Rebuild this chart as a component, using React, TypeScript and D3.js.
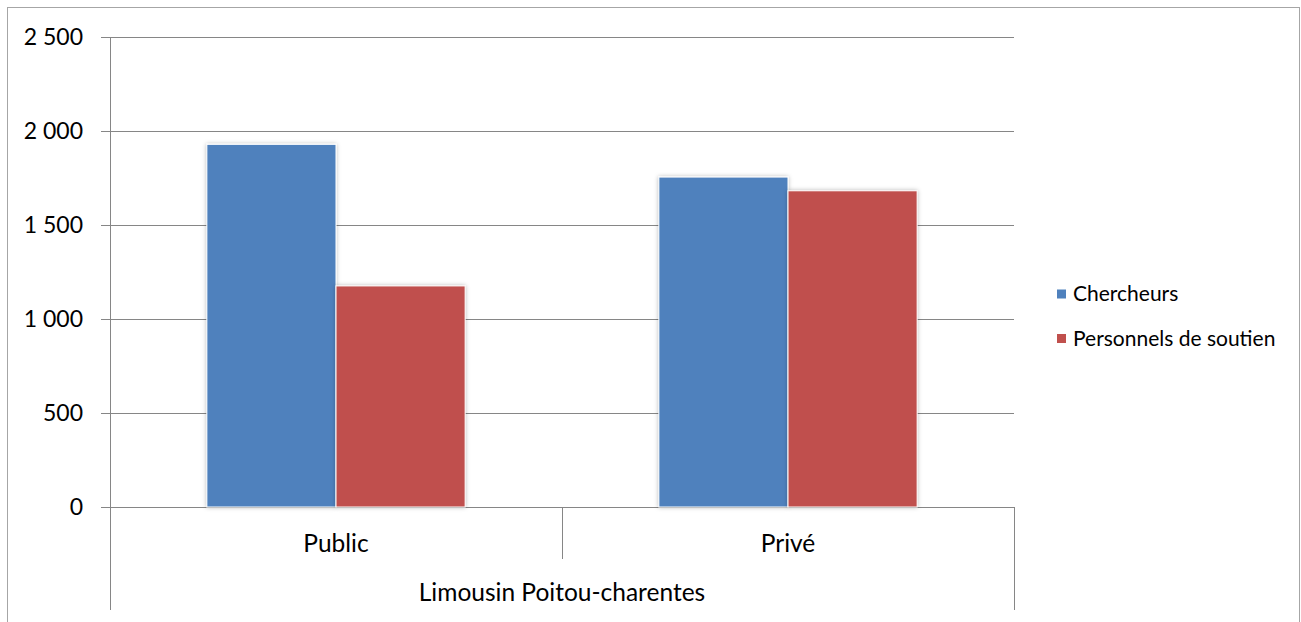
import React from "react";
import * as d3 from "d3";

const categories = ["Public", "Privé"];
const groupLabel = "Limousin Poitou-charentes";
const seriesNames = ["Chercheurs", "Personnels de soutien"];
const chercheurs = [1929, 1755];
const soutien = [1176, 1682];
const yTicks = [0, 500, 1000, 1500, 2000, 2500];
const colors = ["#4F81BD", "#C0504D"];

const W = 1301;
const H = 622;
const FONT = "Lato, 'Open Sans', sans-serif";

function fmt(v: number) {
  const s = String(v);
  return s.length > 3 ? s.slice(0, s.length - 3) + "\u00a0" + s.slice(-3) : s;
}

export default function App() {
  const left = 110, right = 1014, top = 37, bottom = 507;
  const x0 = d3.scaleBand<string>().domain(categories).range([left, right]).paddingInner(0).paddingOuter(0);
  const x1 = d3.scaleBand<string>().domain(seriesNames).range([0, x0.bandwidth()]).paddingInner(0).paddingOuter(0.75);
  const y = d3.scaleLinear().domain([0, 2500]).range([bottom, top]);
  const series = [chercheurs, soutien];
  const grid = "#868686";

  return (
    <svg width={W} height={H} style={{ position: "absolute", left: 0, top: 0, display: "block" }}>
      <defs>
        <filter id="sh" x="-20%" y="-20%" width="140%" height="140%">
          <feDropShadow dx="0" dy="0" stdDeviation="2" floodColor="#000" floodOpacity="0.28" />
        </filter>
      </defs>
      <rect x={0} y={0} width={W} height={H} fill="#fff" />
      <rect x={7.5} y={7.5} width={1292} height={H} fill="none" stroke="#a6a6a6" strokeWidth={1} />
      {/* gridlines */}
      {yTicks.map((t) => (
        <line key={t} x1={left - 9} x2={right} y1={Math.round(y(t)) + 0.5} y2={Math.round(y(t)) + 0.5} stroke={grid} strokeWidth={1} />
      ))}
      {/* y axis */}
      <line x1={left + 0.5} x2={left + 0.5} y1={top} y2={610} stroke={grid} />
      <line x1={x0(categories[1])! + 0.5} x2={x0(categories[1])! + 0.5} y1={bottom} y2={559} stroke={grid} />
      <line x1={right + 0.5} x2={right + 0.5} y1={bottom} y2={610} stroke={grid} />
      {/* bars */}
      {categories.map((c, i) => (
        <g key={c}>
          {seriesNames.map((s, j) => {
            const v = series[j][i];
            return (
              <rect
                key={s}
                x={x0(c)! + x1(s)!}
                y={y(v)}
                width={x1.bandwidth()}
                height={y(0) - y(v)}
                fill={colors[j]}
                stroke="#fff"
                strokeWidth={1}
                filter="url(#sh)"
              />
            );
          })}
        </g>
      ))}
      {/* y tick labels */}
      {yTicks.map((t) => (
        <text key={t} x={83} y={y(t)} dy="0.35em" textAnchor="end" fontFamily={FONT} fontSize={23} fill="#000">
          {fmt(t)}
        </text>
      ))}
      {/* category labels */}
      {categories.map((c) => (
        <text key={c} x={x0(c)! + x0.bandwidth() / 2} y={543} dy="0.35em" textAnchor="middle" fontFamily={FONT} fontSize={24.5} fill="#000">
          {c}
        </text>
      ))}
      <text x={(left + right) / 2} y={592} dy="0.35em" textAnchor="middle" fontFamily={FONT} fontSize={24.5} fill="#000">
        {groupLabel}
      </text>
      {/* legend */}
      {seriesNames.map((s, j) => (
        <g key={s} transform={`translate(1057, ${294 + j * 44.5})`}>
          <rect x={0} y={-4.5} width={9} height={9} fill={colors[j]} />
          <text x={16} y={0} dy="0.35em" fontFamily={FONT} fontSize={21} fill="#000">
            {s}
          </text>
        </g>
      ))}
    </svg>
  );
}
